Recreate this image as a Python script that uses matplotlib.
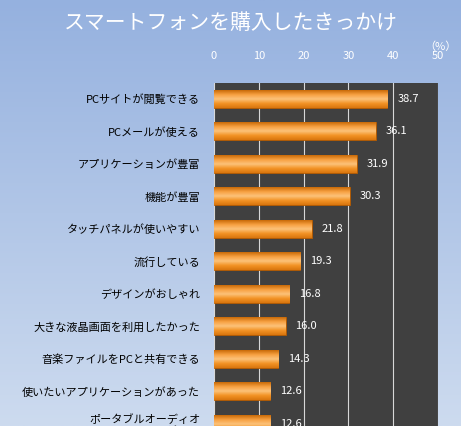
import numpy as np
import matplotlib
matplotlib.use("Agg")
import matplotlib.pyplot as plt
from matplotlib.colors import LinearSegmentedColormap

plt.rcParams['font.family'] = ['Noto Sans CJK JP', 'DejaVu Sans']

# --- Daten ---
labels = ["PCサイトが閲覧できる", "PCメールが使える", "アプリケーションが豊富", "機能が豊富",
          "タッチパネルが使いやすい", "流行している", "デザインがおしゃれ",
          "大きな液晶画面を利用したかった", "音楽ファイルをPCと共有できる",
          "使いたいアプリケーションがあった", "ポータブルオーディオ\nプレーヤー機能がある"]
values = [38.7, 36.1, 31.9, 30.3, 21.8, 19.3, 16.8, 16.0, 14.3, 12.6, 12.6]
xticks = [0, 10, 20, 30, 40, 50]

W, H = 461, 426
fig = plt.figure(figsize=(W / 100, H / 100), dpi=100)

# Hintergrund-Verlauf
bg = fig.add_axes([0, 0, 1, 1])
grad = np.linspace(0, 1, 256).reshape(-1, 1)
bg_cmap = LinearSegmentedColormap.from_list("bg", ["#95b1df", "#cddbef"])
bg.imshow(grad, aspect="auto", cmap=bg_cmap, extent=[0, 1, 0, 1])
bg.axis("off")

fig.text(0.5, 1 - 23 / H, "スマートフォンを購入したきっかけ", color="white",
         fontsize=15, ha="center", va="center")

ax = fig.add_axes([214 / W, -20 / H, 224 / W, 363 / H])
ax.set_facecolor("#404040")
y = np.arange(len(values))
bars = ax.barh(y, values, height=0.55, color="#f08a1c", edgecolor="#b35a00", linewidth=0.6, zorder=3)

bar_cmap = LinearSegmentedColormap.from_list("bar", ["#c86a08", "#f7a040", "#fcc27a", "#f39325", "#d9760f"])
bgrad = np.linspace(0, 1, 64).reshape(-1, 1)
for b in bars:
    x0, y0 = b.get_x(), b.get_y()
    im = ax.imshow(bgrad, aspect="auto", cmap=bar_cmap, zorder=3.5,
                   extent=[x0, x0 + b.get_width(), y0 + b.get_height(), y0])
    im.set_clip_path(b)

for yi, v in zip(y, values):
    ax.text(v + 2.2, yi, f"{v:.1f}", color="white", fontsize=8, va="center", zorder=5)

ax.set_xlim(0, 50)
ax.set_ylim(10.68, -0.49)
ax.xaxis.tick_top()
ax.set_xticks(xticks)
ax.tick_params(axis="x", colors="white", labelsize=8, length=0, pad=16)
ax.set_yticks(y)
ax.set_yticklabels(labels, fontsize=8, color="black")
ax.tick_params(axis="y", length=0, pad=10)
ax.grid(True, axis="x", color="#d8d8d8", linewidth=0.8, zorder=1)
for s in ax.spines.values():
    s.set_visible(False)

fig.text(440 / W, 1 - 47 / H, "（%）", color="white", fontsize=8, ha="center", va="center")

plt.savefig("out.png", dpi=100)
